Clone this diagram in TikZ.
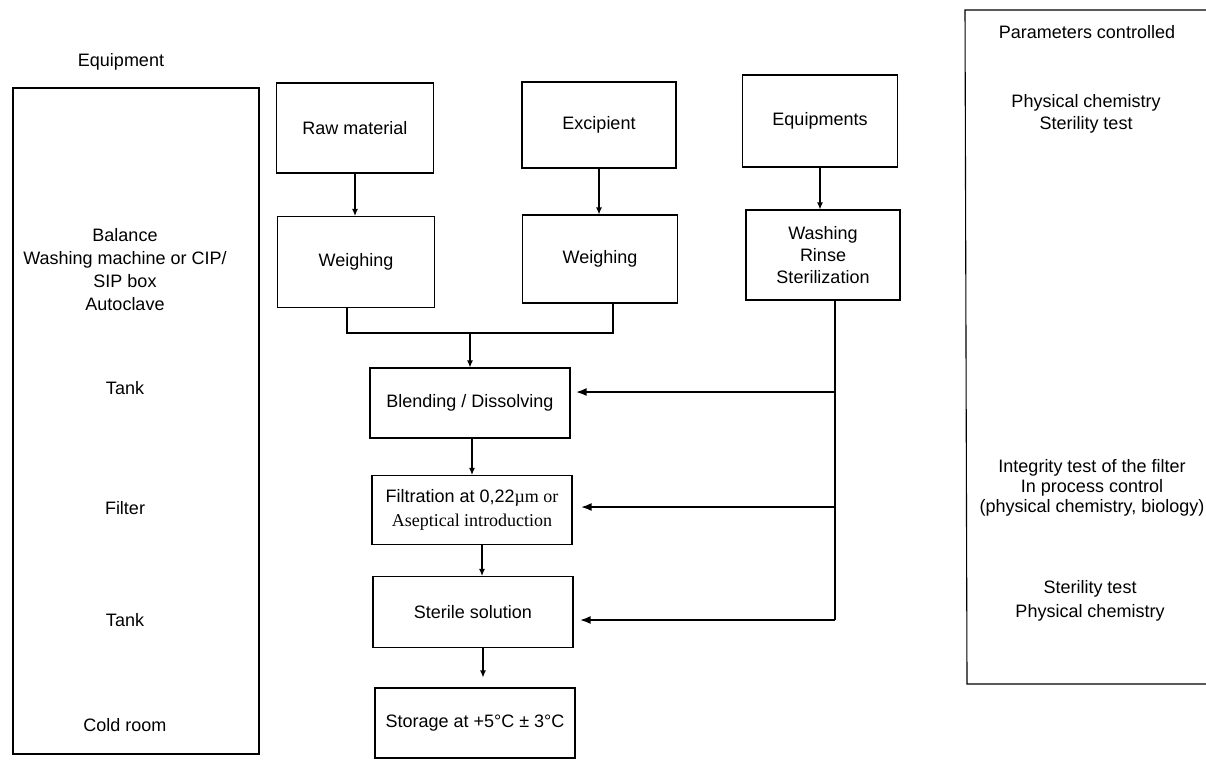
\documentclass[tikz,border=0pt]{standalone}
\usepackage{fontspec}
\setmainfont{Liberation Sans}
\newfontfamily\serifface{Liberation Serif}
\usetikzlibrary{arrows.meta,positioning}

\begin{document}
\begin{tikzpicture}[x=1pt, y=-1pt, line width=1.1pt, >={Latex[length=7pt,width=6pt]},
    every node/.style={font=\fontsize{18}{23}\selectfont, align=center, inner sep=0pt},
    box/.style={draw, minimum width=200pt, minimum height=70pt},
    feed/.style={->, line width=2.2pt, >={Latex[length=11pt,width=8pt]}}]
    \useasboundingbox (0,0) rectangle (1206,763);

    % equipment column
    \node (equiptitle) at (121,62) {Equipment};
    \node[draw, minimum width=246pt, minimum height=666pt] (equipcol) at (136,421) {};
    \node (balance) at (125,270) {Balance\\Washing machine or CIP/\\SIP box\\Autoclave};
    \node (tank1) at (125,388) {Tank};
    \node (filter) at (125,508) {Filter};
    \node (tank2) at (125,620) {Tank};
    \node (cold) at (125,725) {Cold room};

    % process
    \node[box, minimum width=157pt, minimum height=90pt] (raw) at (355,128) {Raw material};
    \node[box, minimum width=154pt, minimum height=86pt] (excip) at (599,125) {Excipient};
    \node[box, minimum width=155pt, minimum height=92pt] (equip) at (820,121) {Equipments};
    \node[box, minimum width=157pt, minimum height=91pt] (weigh1) at (356,262) {Weighing};
    \node[box, minimum width=155pt, minimum height=88pt] (weigh2) at (600,259) {Weighing};
    \node[box, minimum width=154pt, minimum height=90pt, font=\fontsize{18}{22}\selectfont] (wash) at (823,255) {Washing\\Rinse\\Sterilization};
    \node[box] (blend) at (470,403) {Blending / Dissolving};
    \node[box, minimum height=69pt, font=\fontsize{18}{24}\selectfont] (filt) at (472,510) {Filtration at 0,22{\serifface µm or}\\\serifface Aseptical introduction};
    \node[box, minimum height=71pt] (steril) at (473,612) {Sterile solution};
    \node[box] (store) at (475,723) {Storage at +5°C ± 3°C};

    \draw[->] (raw.south) -- (raw.south |- weigh1.north);
    \draw[->] (excip.south) -- (excip.south |- weigh2.north);
    \draw[->] (equip.south) -- (equip.south |- wash.north);
    \coordinate (join) at (470,333);
    \draw ([xshift=-9pt]weigh1.south) |- (join) -| ([xshift=13pt]weigh2.south);
    \draw[->] (join) -- (join |- blend.north);
    \draw[->] (filt.north |- blend.south) -- (filt.north);
    \draw[->] ([xshift=10pt]filt.south) -- ([xshift=9pt]steril.north);
    \draw[->, shorten >=10pt] ([xshift=10pt]steril.south) -- ([xshift=8pt]store.north);

    % feed of sterile equipment
    \coordinate (railb) at (835,392);
    \coordinate (railf) at (835,507);
    \coordinate (rails) at (835,620);
    \draw (wash.south -| rails) -- (rails);
    \draw[feed, shorten >=5pt] (railb) -- (railb -| blend.east);
    \draw[feed, shorten >=8pt] (railf) -- (railf -| filt.east);
    \draw[feed, shorten >=6pt] (rails) -- (rails -| steril.east);

    % parameters column
    \draw (1206,10) -- (965,10) -- (967,684) -- (1206,684);
    \node (paramtitle) at (1087,32) {Parameters controlled};
    \node[font=\fontsize{18}{22}\selectfont] (param1) at (1086,114) {Physical chemistry\\Sterility test};
    \node[font=\fontsize{18}{20}\selectfont] (param2) at (1092,488) {Integrity test of the filter\\In process control\\(physical chemistry, biology)};
    \node[font=\fontsize{18}{24}\selectfont] (param3) at (1090,601) {Sterility test\\Physical chemistry};
\end{tikzpicture}
\end{document}
